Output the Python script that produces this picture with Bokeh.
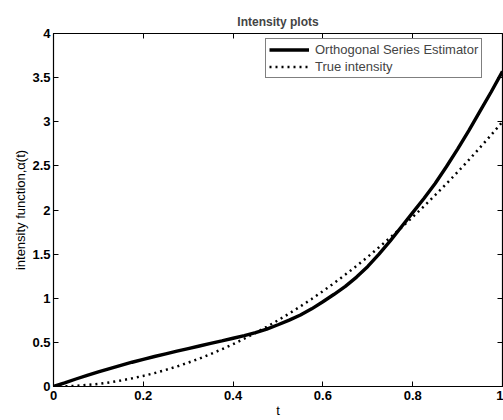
from bokeh.plotting import figure
from bokeh.models import LinearAxis, FixedTicker, Range1d, Legend, LegendItem, CustomLabelingPolicy
from bokeh.embed import file_html
from bokeh.resources import INLINE

# Data
t_vals = [0.0, 0.025, 0.05, 0.075, 0.1, 0.125, 0.15, 0.175, 0.2, 0.225, 0.25,
          0.275, 0.3, 0.325, 0.35, 0.375, 0.4, 0.425, 0.45, 0.475, 0.5,
          0.525, 0.55, 0.575, 0.6, 0.625, 0.65, 0.675, 0.7, 0.725, 0.75,
          0.775, 0.8, 0.825, 0.85, 0.875, 0.9, 0.925, 0.95, 0.975, 1.0]
estimator = [0.0, 0.042, 0.085, 0.125, 0.165, 0.203, 0.24, 0.275, 0.308, 0.34, 0.37,
             0.40, 0.43, 0.459, 0.488, 0.517, 0.547, 0.577, 0.61, 0.651, 0.70,
             0.752, 0.81, 0.88, 0.96, 1.045, 1.135, 1.24, 1.36, 1.50, 1.65,
             1.81, 1.97, 2.13, 2.30, 2.49, 2.69, 2.90, 3.12, 3.34, 3.57]
true_intensity = [0.0, 0.002, 0.008, 0.017, 0.03, 0.047, 0.068, 0.092, 0.12, 0.152, 0.188,
                  0.227, 0.27, 0.317, 0.368, 0.422, 0.48, 0.542, 0.608, 0.677, 0.75,
                  0.827, 0.908, 0.992, 1.08, 1.172, 1.268, 1.367, 1.47, 1.577, 1.688,
                  1.802, 1.92, 2.042, 2.168, 2.297, 2.43, 2.567, 2.708, 2.852, 3.0]

x_ticks = [0, 0.2, 0.4, 0.6, 0.8, 1]
x_tick_labels = ["0", "0.2", "0.4", "0.6", "0.8", "1"]
y_ticks = [0, 0.5, 1, 1.5, 2, 2.5, 3, 3.5, 4]
y_tick_labels = ["0", "0.5", "1", "1.5", "2", "2.5", "3", "3.5", "4"]

FONT = "Liberation Sans"

p = figure(width=503, height=420, output_backend="svg", toolbar_location=None,
           x_range=Range1d(0, 1), y_range=Range1d(0, 4),
           min_border_left=53, min_border_right=1, min_border_top=33,
           min_border_bottom=34, title="Intensity plots")

p.title.align = "center"
p.title.text_font = FONT
p.title.text_font_size = "12px"
p.title.text_font_style = "bold"
p.title.offset = 0
p.title.standoff = 9

p.grid.visible = False
p.outline_line_color = "black"
p.outline_line_width = 1.2

for ax in (p.xaxis[0], p.yaxis[0]):
    ax.major_tick_in = 5
    ax.major_tick_out = 0
    ax.minor_tick_line_color = None
    ax.major_label_text_font = FONT
    ax.major_label_text_font_size = "13px"
    ax.major_label_text_font_style = "bold"
    ax.major_label_text_color = "black"
    ax.axis_label_text_font = FONT
    ax.axis_label_text_font_size = "13px"
    ax.axis_label_text_font_style = "normal"
    ax.axis_label_text_color = "black"
    ax.axis_line_color = "black"
    ax.major_tick_line_color = "black"

p.xaxis[0].ticker = FixedTicker(ticks=x_ticks)
p.xaxis[0].major_label_overrides = {v: s for v, s in zip(x_ticks, x_tick_labels)}
p.xaxis[0].axis_label = "t"
p.xaxis[0].major_label_standoff = 4
p.xaxis[0].axis_label_standoff = 0

p.yaxis[0].ticker = FixedTicker(ticks=y_ticks)
p.yaxis[0].major_label_overrides = {v: s for v, s in zip(y_ticks, y_tick_labels)}
p.yaxis[0].axis_label = "intensity function,\u03b1(t)"
p.yaxis[0].major_label_standoff = 3
p.yaxis[0].axis_label_standoff = 1

no_labels = "for (const i of indices) { indices.unset(i) }\nreturn indices"

# top and right axes with inward ticks, no labels, pinned to the frame edges
top = LinearAxis(ticker=FixedTicker(ticks=x_ticks), major_tick_in=5, major_tick_out=0,
                 minor_tick_line_color=None, major_label_standoff=0,
                 fixed_location=4,
                 major_label_policy=CustomLabelingPolicy(code=no_labels))
right = LinearAxis(ticker=FixedTicker(ticks=y_ticks), major_tick_in=5, major_tick_out=0,
                   minor_tick_line_color=None, major_label_standoff=0,
                   fixed_location=1,
                   major_label_policy=CustomLabelingPolicy(code=no_labels))
p.add_layout(top, "above")
p.add_layout(right, "right")

r1 = p.line(t_vals, estimator, line_color="black", line_width=3.4)
r2 = p.line(t_vals, true_intensity, line_color="black", line_width=2.5, line_dash="2 4")

legend = Legend(items=[LegendItem(label="Orthogonal Series Estimator", renderers=[r1]),
                       LegendItem(label="True intensity", renderers=[r2])],
                location=(212, 308), margin=0,
                label_text_font=FONT, label_text_font_size="13px",
                label_text_font_style="normal",
                border_line_color="black", border_line_width=1,
                glyph_width=40, glyph_height=15, label_height=15,
                padding=3, spacing=2, label_standoff=6)
p.add_layout(legend, "center")

open("out.html", "w").write(file_html(p, INLINE))
